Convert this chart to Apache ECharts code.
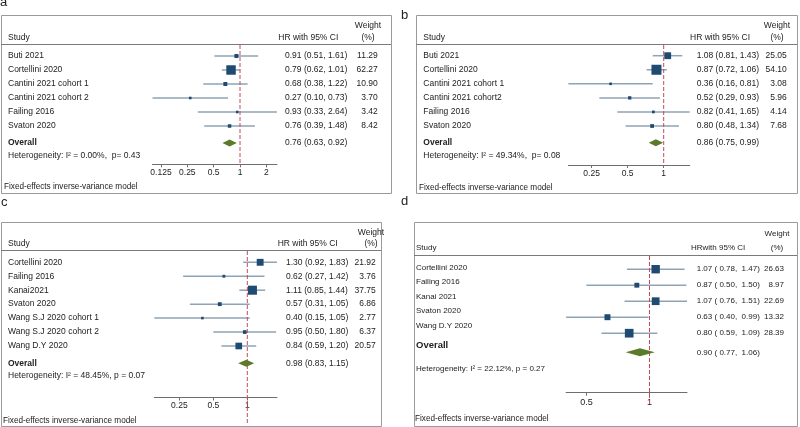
<!DOCTYPE html>
<html><head><meta charset="utf-8">
<script src="https://cdn.jsdelivr.net/npm/echarts@6/dist/echarts.min.js"></script>
<style>html,body{margin:0;padding:0;background:#fff}#c{width:800px;height:427px}</style>
</head><body><div id="c"></div>
<script>
// ---------- DATA ----------
const studiesA = ['Buti 2021','Cortellini 2020','Cantini 2021 cohort 1','Cantini 2021 cohort 2','Failing 2016','Svaton 2020'];
const hrA = [0.91,0.79,0.68,0.27,0.93,0.76];
const loA = [0.51,0.62,0.38,0.10,0.33,0.39];
const hiA = [1.61,1.01,1.22,0.73,2.64,1.48];
const weightA = [11.29,62.27,10.90,3.70,3.42,8.42];
const overallA = [0.76,0.63,0.92];
const hetA = 'Heterogeneity: I\u00b2 = 0.00%,  p= 0.43';
const ticksA = [0.125,0.25,0.5,1,2];

const studiesB = ['Buti 2021','Cortellini 2020','Cantini 2021 cohort 1','Cantini 2021 cohort2','Failing 2016','Svaton 2020'];
const hrB = [1.08,0.87,0.36,0.52,0.82,0.80];
const loB = [0.81,0.72,0.16,0.29,0.41,0.48];
const hiB = [1.43,1.06,0.81,0.93,1.65,1.34];
const weightB = [25.05,54.10,3.08,5.96,4.14,7.68];
const overallB = [0.86,0.75,0.99];
const hetB = 'Heterogeneity: I\u00b2 = 49.34%,  p= 0.08';
const ticksB = [0.25,0.5,1];

const studiesC = ['Cortellini 2020','Failing 2016','Kanai2021','Svaton 2020','Wang S.J 2020 cohort 1','Wang S.J 2020 cohort 2','Wang D.Y 2020'];
const hrC = [1.30,0.62,1.11,0.57,0.40,0.95,0.84];
const loC = [0.92,0.27,0.85,0.31,0.15,0.50,0.59];
const hiC = [1.83,1.42,1.44,1.05,1.05,1.80,1.20];
const weightC = [21.92,3.76,37.75,6.86,2.77,6.37,20.57];
const overallC = [0.98,0.83,1.15];
const hetC = 'Heterogeneity: I\u00b2 = 48.45%, p = 0.07';
const ticksC = [0.25,0.5,1];

const studiesD = ['Cortellini 2020','Failing 2016','Kanai 2021','Svaton 2020','Wang D.Y 2020'];
const hrD = [1.07,0.87,1.07,0.63,0.80];
const loD = [0.78,0.50,0.76,0.40,0.59];
const hiD = [1.47,1.50,1.51,0.99,1.09];
const weightD = [26.63,8.97,22.69,13.32,28.39];
const overallD = [0.90,0.77,1.06];
const hetD = 'Heterogeneity: I\u00b2 = 22.12%, p = 0.27';
const ticksD = [0.5,1];

const panelLetters = ['a','b','c','d'];
const footnote = 'Fixed-effects inverse-variance model';
const hdrStudy = 'Study';
const hdrWeight = 'Weight';
const hdrPct = '(%)';

// ---------- LAYOUT ----------
const FONT = '"Liberation Sans", Arial, sans-serif';
const C_SQ = '#1f4a72', C_CI = '#8ea3b3', C_DIA = '#5b7b2a', C_RED = '#c44a5a', C_TXT = '#222';

const panels = [
  {names:studiesA, hr:hrA, lo:loA, hi:hiA, w:weightA, ov:overallA, het:hetA, ticks:ticksA, hrHdr:'HR with 95% CI', ciFmt:0,
   box:[1,15,391,193], hdrLineY:44, gridTop:45, rowTop:56, rowStep:14, overallY:143, axisY:164.3, redBottom:164.3,
   x1:240, s:38, nameX:8, ciX:285, wX:377.7, hrX:278.3, wCX:368, wY:25.7, hdrY:37.7, hetX:8, hetY:156, footX:4, footY:187,
   fs:8.5, k:1.2, dh:3.5, letter:[0,2], tickFs:8.5, tickMargin:4},
  {names:studiesB, hr:hrB, lo:loB, hi:hiB, w:weightB, ov:overallB, het:hetB, ticks:ticksB, hrHdr:'HR with 95% CI', ciFmt:0,
   box:[416,15,797,193], hdrLineY:44, gridTop:45, rowTop:55.7, rowStep:14.06, overallY:142.7, axisY:165, redBottom:165,
   x1:663.7, s:52, nameX:423.3, ciX:696.7, wX:786.7, hrX:690, wCX:777, wY:25.7, hdrY:37.7, hetX:423.3, hetY:156, footX:419, footY:187.3,
   fs:8.5, k:1.36, dh:3.5, letter:[401,15], tickFs:8.5, tickMargin:4},
  {names:studiesC, hr:hrC, lo:loC, hi:hiC, w:weightC, ov:overallC, het:hetC, ticks:ticksC, hrHdr:'HR with 95% CI', ciFmt:0,
   box:[1,222,381,426], hdrLineY:250, gridTop:251, rowTop:262.3, rowStep:13.95, overallY:363.3, axisY:397.5, redBottom:424,
   x1:247.3, s:49, nameX:8, ciX:286, wX:375.7, hrX:277.7, wCX:371, wY:232.7, hdrY:243.3, hetX:8, hetY:375.7, footX:3, footY:420.7,
   fs:8.5, k:1.47, dh:3.5, letter:[1,202.5], tickFs:8.5, tickMargin:4},
  {names:studiesD, hr:hrD, lo:loD, hi:hiD, w:weightD, ov:overallD, het:hetD, ticks:ticksD, hrHdr:'HRwith 95% CI', ciFmt:1,
   box:[414,222,797,426], hdrLineY:255, gridTop:256, rowTop:269.2, rowStep:16, overallY:352.3, axisY:392.7, redBottom:406,
   x1:649.5, s:91, nameX:416, nameTop:267.7, nameStep:14.5, overallNameY:345, ciX:696.7, wX:784, hrX:691, wCX:777, wY:234, hdrY:247.3,
   hetX:416, hetY:368.3, footX:415, footY:418.3, fs:8, k:1.63, dh:4, overallFs:9.5, letter:[401,201], tickFs:9, tickMargin:5.5}
];

function ciText(P, h, l, u) {
  if (P.ciFmt === 1) return h.toFixed(2) + ' ( ' + l.toFixed(2) + ',  ' + u.toFixed(2) + ')';
  return h.toFixed(2) + ' (' + l.toFixed(2) + ', ' + u.toFixed(2) + ')';
}
function tx(x, y, text, o) {
  o = o || {};
  return {type:'text', x:x, y:y, silent:true, z:10,
    style:{text:text, fill:C_TXT, fontSize:o.fs || 8.5, fontFamily:FONT, fontWeight:o.fw || 'normal',
      align:o.align || 'left', textAlign:o.align || 'left', verticalAlign:'middle', textVerticalAlign:'middle'}};
}

const grids = [], xAxes = [], yAxes = [], series = [], graphics = [];

panels.forEach(function (P, pi) {
  const xmin = Math.min.apply(null, P.lo.concat([P.ov[1]]));
  const xmax = Math.max.apply(null, P.hi.concat([P.ov[2]]));
  const left = P.x1 + P.s * Math.log(xmin);
  const width = P.s * Math.log(xmax / xmin);
  grids.push({left:left, width:width, top:P.gridTop, height:P.axisY - P.gridTop});
  const yv = function (py) { return (py - P.rowTop) / P.rowStep; };
  xAxes.push({type:'log', logBase:2, gridIndex:pi, min:xmin, max:xmax, position:'bottom',
    axisLine:{show:true, onZero:false, lineStyle:{color:'#6e6e6e', width:1}},
    axisTick:{show:true, length:3, customValues:P.ticks, lineStyle:{color:'#6e6e6e'}},
    axisLabel:{customValues:P.ticks, fontSize:P.tickFs, fontFamily:FONT, color:C_TXT, margin:P.tickMargin,
      formatter:function (v) { return String(+(+v).toFixed(3)); }},
    splitLine:{show:false}, minorTick:{show:false}});
  yAxes.push({type:'value', gridIndex:pi, inverse:true, min:yv(P.gridTop), max:yv(P.axisY), show:false});

  const data = P.names.map(function (n, i) { return [P.hr[i], P.lo[i], P.hi[i], P.w[i], i, 0]; });
  data.push([P.ov[0], P.ov[1], P.ov[2], 0, yv(P.overallY), 1]);

  series.push({type:'custom', xAxisIndex:pi, yAxisIndex:pi, clip:false, silent:true,
    encode:{x:0, y:4}, data:data,
    renderItem:function (params, api) {
      const i = params.dataIndex;
      const hr = api.value(0), lo = api.value(1), hi = api.value(2), w = api.value(3), row = api.value(4), kind = api.value(5);
      const pc = api.coord([hr, row]), pl = api.coord([lo, row]), ph = api.coord([hi, row]);
      const ch = [];
      if (kind === 0) {
        ch.push({type:'line', shape:{x1:pl[0], y1:pc[1], x2:ph[0], y2:pc[1]}, style:{stroke:C_CI, lineWidth:1.5}});
        const s = Math.max(2.6, P.k * Math.sqrt(w));
        ch.push({type:'rect', shape:{x:pc[0]-s/2, y:pc[1]-s/2, width:s, height:s}, style:{fill:C_SQ}});
        const ny = P.nameTop !== undefined ? P.nameTop + i * P.nameStep : pc[1];
        ch.push(tx(P.nameX, ny, P.names[i], {fs:P.fs}));
        ch.push(tx(P.ciX, pc[1], ciText(P, hr, lo, hi), {fs:P.fs}));
        ch.push(tx(P.wX, pc[1], w.toFixed(2), {fs:P.fs, align:'right'}));
      } else {
        const t = api.coord([1, yv(P.gridTop)]), b = api.coord([1, yv(P.redBottom)]);
        ch.push({type:'line', shape:{x1:t[0], y1:t[1], x2:b[0], y2:b[1]},
          style:{stroke:C_RED, lineWidth:1, lineDash:[4,2]}});
        ch.push({type:'polygon', shape:{points:[[pl[0],pc[1]],[pc[0],pc[1]-P.dh],[ph[0],pc[1]],[pc[0],pc[1]+P.dh]]},
          style:{fill:C_DIA}});
        const oy = P.overallNameY !== undefined ? P.overallNameY : pc[1];
        ch.push(tx(P.nameX, oy, 'Overall', {fs:P.overallFs || P.fs, fw:'bold'}));
        ch.push(tx(P.ciX, pc[1], ciText(P, hr, lo, hi), {fs:P.fs}));
      }
      return {type:'group', children:ch};
    }});

  const bx = P.box;
  graphics.push({type:'rect', shape:{x:bx[0]+0.5, y:bx[1]+0.5, width:bx[2]-bx[0], height:bx[3]-bx[1]},
    style:{fill:'none', stroke:'#9a9a9a', lineWidth:1}, silent:true});
  graphics.push({type:'line', shape:{x1:bx[0], y1:P.hdrLineY+0.5, x2:bx[2], y2:P.hdrLineY+0.5},
    style:{stroke:'#7a7a7a', lineWidth:1}, silent:true});
  graphics.push(tx(P.nameX, P.hdrY, hdrStudy, {fs:P.fs}));
  graphics.push(tx(P.hrX, P.hdrY, P.hrHdr, {fs:P.fs}));
  graphics.push(tx(P.wCX, P.wY, hdrWeight, {fs:P.fs, align:'center'}));
  graphics.push(tx(P.wCX, P.hdrY, hdrPct, {fs:P.fs, align:'center'}));
  graphics.push(tx(P.hetX, P.hetY, P.het, {fs:P.fs}));
  graphics.push(tx(P.footX, P.footY, footnote, {fs:8.2}));
  graphics.push(tx(P.letter[0], P.letter[1], panelLetters[pi], {fs:13}));
});

const chart = echarts.init(document.getElementById('c'), null, {renderer:'canvas'});
chart.setOption({
  animation:false,
  backgroundColor:'#ffffff',
  grid:grids, xAxis:xAxes, yAxis:yAxes, series:series, graphic:graphics
});
</script></body></html>
